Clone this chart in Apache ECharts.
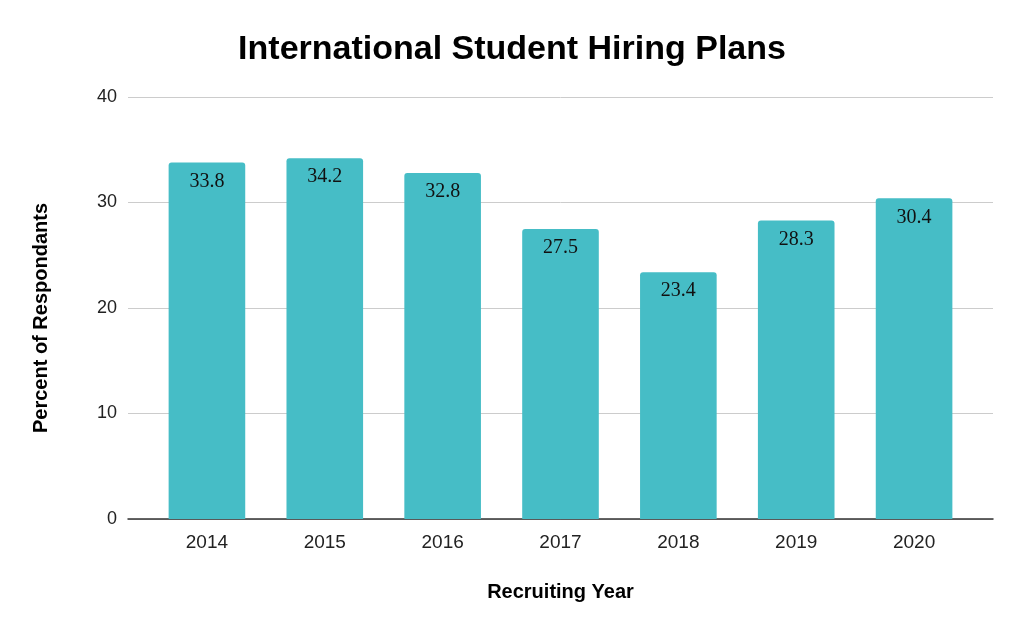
<!DOCTYPE html>
<html>
<head>
<meta charset="utf-8">
<script src="https://cdn.jsdelivr.net/npm/echarts@6/dist/echarts.min.js"></script>
<style>
  html, body { margin: 0; padding: 0; background: #fff; }
  #main { width: 1024px; height: 633px; }
</style>
</head>
<body>
<div id="main"></div>
<script>
var years = ['2014', '2015', '2016', '2017', '2018', '2019', '2020'];
var percents = [33.8, 34.2, 32.8, 27.5, 23.4, 28.3, 30.4];
var yTicks = [0, 10, 20, 30, 40];

var yMin = yTicks[0], yMax = yTicks[yTicks.length - 1];

var chart = echarts.init(document.getElementById('main'));
var option = {
    title: {
        text: 'International Student Hiring Plans',
        left: 'center',
        top: 28,
        textStyle: {
            fontFamily: 'Liberation Sans',
            fontSize: 34,
            fontWeight: 'bold',
            color: '#000'
        }
    },
    // grid 0: gridlines + baseline (full width), grid 1: the bars (inset like Sheets does)
    grid: [
        { left: 128, right: 31, top: 97, bottom: 114 },
        { left: 148, right: 51, top: 97, bottom: 114 }
    ],
    xAxis: [
        {
            type: 'value',
            gridIndex: 0,
            min: 0,
            max: 1,
            axisLabel: { show: false },
            axisTick: { show: false },
            splitLine: { show: false },
            axisLine: { show: true, onZero: false, lineStyle: { color: '#333', width: 1.5 } },
            name: 'Recruiting Year',
            nameLocation: 'middle',
            nameGap: 63,
            nameTextStyle: {
                fontFamily: 'Liberation Sans',
                fontSize: 20,
                fontWeight: 'bold',
                color: '#000'
            }
        },
        {
            type: 'category',
            gridIndex: 1,
            data: years,
            axisTick: { show: false },
            axisLine: { show: false },
            axisLabel: {
                fontFamily: 'Liberation Sans',
                fontSize: 19,
                color: '#222',
                margin: 14
            }
        }
    ],
    yAxis: [
        {
            type: 'value',
            gridIndex: 0,
            min: yMin,
            max: yMax,
            interval: 10,
            name: 'Percent of Respondants',
            nameLocation: 'middle',
            nameGap: 77,
            nameTextStyle: {
                fontFamily: 'Liberation Sans',
                fontSize: 20,
                fontWeight: 'bold',
                color: '#000',
                padding: [0, 20, 0, 0]
            },
            axisLine: { show: false },
            axisTick: { show: false },
            axisLabel: {
                fontFamily: 'Liberation Sans',
                fontSize: 18,
                color: '#222',
                margin: 11
            },
            splitLine: { lineStyle: { color: '#ccc', width: 1 } }
        },
        {
            type: 'value',
            gridIndex: 1,
            min: yMin,
            max: yMax,
            interval: 10,
            show: false,
            splitLine: { show: false }
        }
    ],
    series: [{
        type: 'bar',
        xAxisIndex: 1,
        yAxisIndex: 1,
        data: percents,
        barWidth: '65%',
        itemStyle: {
            color: '#46bdc6',
            borderRadius: [3, 3, 0, 0]
        },
        label: {
            show: true,
            position: 'insideTop',
            distance: 9,
            fontFamily: 'Liberation Serif',
            fontSize: 20,
            color: '#111'
        }
    }]
};
chart.setOption(option);
</script>
</body>
</html>
